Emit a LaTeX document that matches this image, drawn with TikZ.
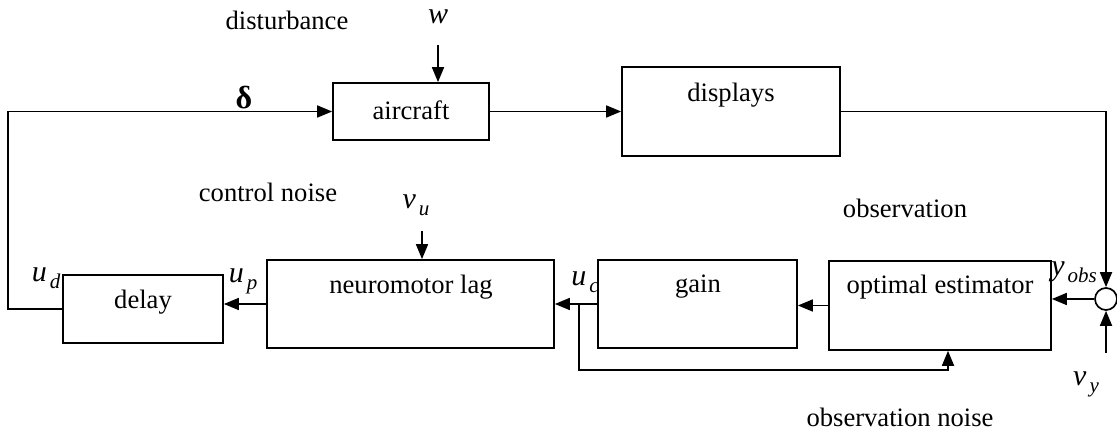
\documentclass[tikz,border=0pt]{standalone}
\usepackage{fontspec}
\setmainfont{Liberation Serif}
\usetikzlibrary{arrows.meta,fit,calc}
\newcommand\mlbl[2]{{\fontsize{15}{15}\selectfont\itshape #1}\kern1.5pt{\fontsize{10.5}{10.5}\selectfont\itshape\raisebox{-3.5pt}{#2}}}
\begin{document}
\begin{tikzpicture}[x=0.5pt,y=-0.5pt,
  blk/.style={draw, line width=0.85pt, inner sep=0pt},
  txt/.style={inner sep=0pt, font=\fontsize{13.3}{16}\selectfont},
  sym/.style={inner sep=0pt},
  arr/.style={line width=0.85pt, -{Triangle[length=7.5pt,width=6pt]}}]
\useasboundingbox (0,0) rectangle (1117,431);

% blocks
\node[blk, fit={(333,83) (489,140)}] (air) {};
\node[blk, fit={(622,67) (840,156)}] (disp) {};
\node[blk, fit={(63,275) (223,343)}] (delay) {};
\node[blk, fit={(267,260) (554,348)}] (neuro) {};
\node[blk, fit={(598,260) (797,348)}] (gain) {};
\node[blk, fit={(829,261) (1051,350)}] (est) {};
\node[draw, circle, line width=0.85pt, minimum size=11pt, inner sep=0pt] (sum) at (1106,299) {};

% block texts
\node[txt] (airT) at (411,110) {aircraft};
\node[txt] (dispT) at (731,95) {displays};
\node[txt] (delayT) at (143,302) {delay};
\node[txt] (neuroT) at (411,287) {neuromotor lag};
\node[txt] (gainT) at (698,287) {gain};
\node[txt] (estT) at (940,287) {optimal estimator};

% free labels
\node[txt] (dist) at (287,20) {disturbance};
\node[txt] (cnoise) at (268,192) {control noise};
\node[txt] (obs) at (905,208) {observation};
\node[txt] (onoise) at (900,417) {observation noise};
\node[sym] (wl) at (438,17) {\fontsize{15}{15}\selectfont\itshape w};
\node[sym] (dl) at (244,98) {\fontsize{16}{16}\selectfont\bfseries δ};
\node[sym] (udl) at (46,278) {\mlbl{u}{d}};
\node[sym] (upl) at (243,281) {\mlbl{u}{p}};
\node[sym] (ucl) at (585,282) {\mlbl{u}{c}};
\node[sym] (yol) at (1074,272) {\mlbl{y}{obs}};
\node[sym] (vul) at (416,205) {\mlbl{v}{u}};
\node[sym] (vyl) at (1086,384) {\mlbl{v}{y}};

% free ends
\coordinate (wtop) at (438,45);
\coordinate (vutop) at (422,231);
\coordinate (vyin) at (1106,353);
\coordinate (lc) at (8,200);
\coordinate (fbx) at (579,370);
\coordinate (fbe) at (948,370);

% connectors
\draw[arr] (wtop) -- (wtop |- air.north);
\draw[arr] (vutop) -- (vutop |- neuro.north);
\draw[arr] (air.east) -- (air.east -| disp.west);
\draw[arr] (disp.east) -| (sum.north);
\draw[arr] (vyin) -- (sum.south);
\draw[arr] (sum.west) -- (sum.west -| est.east);
\draw[arr] (est.west) -- (est.west -| gain.east);
\draw[arr] (gain.west) -- (gain.west -| neuro.east);
\draw[arr] (fbx |- gain.west) -- (fbx) -- (fbe) -- (fbe |- est.south);
\draw[arr] (neuro.west) -- (neuro.west -| delay.east);
\draw[arr] (delay.west) -- (delay.west -| lc) -- (lc |- air.west) -- (air.west);
\end{tikzpicture}
\end{document}
